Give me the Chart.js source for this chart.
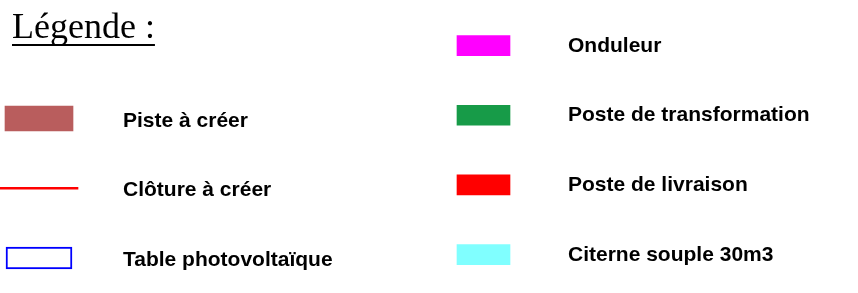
<!DOCTYPE html>
<html>
<head>
<meta charset="utf-8">
<script src="https://cdn.jsdelivr.net/npm/chart.js@4"></script>
<style>
  body { margin: 0; background: #fff; }
  canvas { display: block; }
</style>
</head>
<body>
<canvas id="legende" width="858" height="293"></canvas>
<script>
const titre = "Légende :";
const elementsGauche = ["Piste à créer", "Clôture à créer", "Table photovoltaïque"];
const elementsDroite = ["Onduleur", "Poste de transformation", "Poste de livraison", "Citerne souple 30m3"];

// mise en page (pixels sur l'axe x de 0 a 858)
const colGauche = { debut: 5, fin: 73, texte: 123, haut: 118.5, pas: 69.75, decal: 8 };
const colDroite = { debut: 457, fin: 510, texte: 568, haut: 45.6, pas: 69.65, decal: 6 };

const rangGauche = elementsGauche.map((e, i) => i + 1);
const rangDroite = elementsDroite.map((e, i) => i + 1);

function echelleRangs(col) {
    const min = 1 - col.haut / col.pas;
    return { type: "linear", reverse: true, offset: false, min: min, max: min + 293 / col.pas, display: false };
}

const textes = {
    id: "textes",
    afterDatasetsDraw(chart) {
        const ctx = chart.ctx;
        const x = chart.scales.x;
        const yG = chart.scales.yL;
        const yD = chart.scales.yR;
        ctx.save();
        ctx.fillStyle = "#000";
        ctx.textBaseline = "alphabetic";
        ctx.textAlign = "left";

        ctx.font = '36px "Liberation Serif", "Times New Roman", serif';
        ctx.fillText(titre, 12, 38);
        const w = ctx.measureText(titre).width;
        ctx.fillRect(12, 44, w, 2);

        ctx.font = 'bold 21px "Liberation Sans", Arial, sans-serif';
        elementsGauche.forEach((t, i) => {
            ctx.fillText(t, x.getPixelForValue(colGauche.texte), yG.getPixelForValue(rangGauche[i]) + colGauche.decal);
        });
        elementsDroite.forEach((t, i) => {
            ctx.fillText(t, x.getPixelForValue(colDroite.texte), yD.getPixelForValue(rangDroite[i]) + colDroite.decal);
        });
        ctx.restore();
    }
};

new Chart(document.getElementById("legende"), {
    type: "bar",
    data: {
        datasets: [
            {
                label: elementsGauche[0],
                data: [{ x: [colGauche.debut, colGauche.fin], y: rangGauche[0] }],
                yAxisID: "yL",
                backgroundColor: "#b95d5d",
                barThickness: 25
            },
            {
                label: elementsGauche[1],
                data: [{ x: [0, 78], y: rangGauche[1] }],
                yAxisID: "yL",
                backgroundColor: "#ff0000",
                barThickness: 2
            },
            {
                label: elementsGauche[2],
                data: [{ x: [colGauche.debut + 1, colGauche.fin - 1], y: rangGauche[2] }],
                yAxisID: "yL",
                backgroundColor: "#ffffff",
                borderColor: "#0000ff",
                borderWidth: 2,
                borderSkipped: false,
                barThickness: 22
            },
            {
                label: "droite",
                data: rangDroite.map(r => ({ x: [colDroite.debut, colDroite.fin], y: r })),
                yAxisID: "yR",
                backgroundColor: ["#ff00ff", "#179b48", "#ff0000", "#80ffff"],
                barThickness: 20
            }
        ]
    },
    options: {
        responsive: false,
        animation: false,
        indexAxis: "y",
        grouped: false,
        layout: { padding: 0 },
        plugins: {
            legend: { display: false },
            tooltip: { enabled: false }
        },
        scales: {
            x: { type: "linear", min: 0, max: 858, offset: false, display: false },
            yL: echelleRangs(colGauche),
            yR: echelleRangs(colDroite)
        }
    },
    plugins: [textes]
});
</script>
</body>
</html>
